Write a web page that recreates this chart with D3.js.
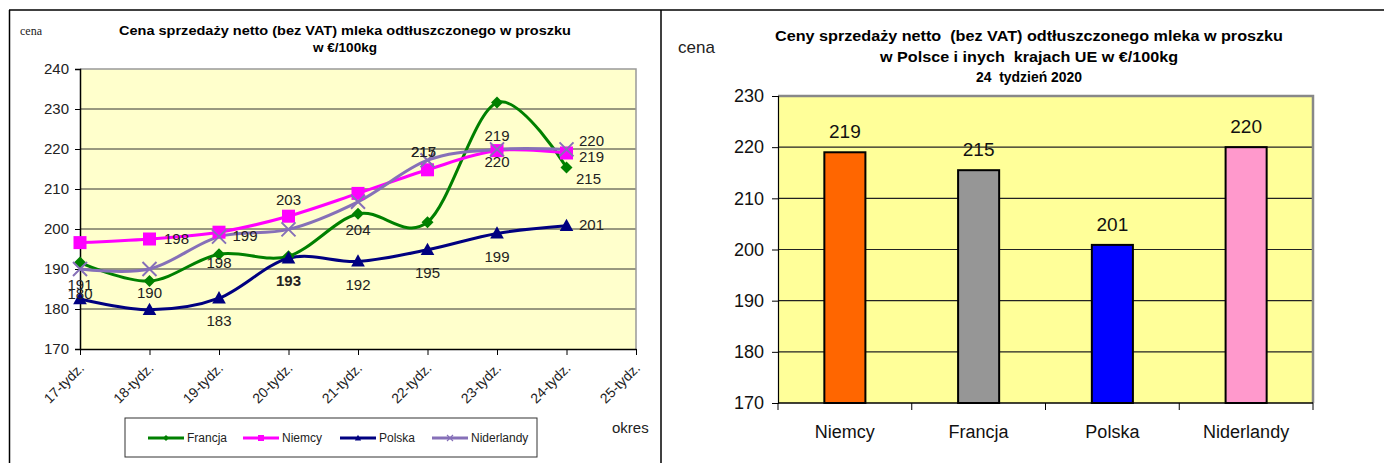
<!DOCTYPE html>
<html><head><meta charset="utf-8">
<script src="https://cdn.jsdelivr.net/npm/d3@7"></script>
<style>
body{margin:0;background:#fff;}
svg{display:block;}
.narrow{font-family:"Liberation Sans Narrow","Arial Narrow","Liberation Sans",Arial,sans-serif;}
.sans{font-family:"Liberation Sans",Arial,sans-serif;}
</style></head>
<body>
<svg id="c" width="1384" height="463"></svg>
<script>
// ---------- data: left chart ----------
const weeks = ["17-tydz.","18-tydz.","19-tydz.","20-tydz.","21-tydz.","22-tydz.","23-tydz.","24-tydz.","25-tydz."];
const francja    = [191.6, 187.0, 193.7, 193.2, 203.8, 201.7, 231.6, 215.4];
const niemcy     = [196.6, 197.5, 199.2, 203.2, 208.9, 214.8, 219.6, 219.0];
const polska     = [182.5, 179.8, 182.7, 192.7, 191.9, 194.8, 198.9, 200.8];
const niderlandy = [190.0, 190.0, 198.1, 199.9, 206.8, 217.2, 219.9, 219.9];
const leftTicks = [170,180,190,200,210,220,230,240];
const seriesNames = ["Francja","Niemcy","Polska","Niderlandy"];
// data labels as shown: [series index, week index, text]
const pointLabels = [
  [0,0,"191"],[2,0,"180"],[0,1,"190"],[0,2,"198"],[2,3,"193"],[2,2,"183"],
  [1,1,"198"],[3,2,"199"],[1,3,"203"],[0,4,"204"],[2,4,"192"],[2,5,"195"],
  [2,6,"199"],[3,5,"217"],[3,5,"215"],[1,6,"219"],[3,6,"220"],
  [3,7,"220"],[1,7,"219"],[0,7,"215"],[2,7,"201"]
];
// ---------- data: right chart ----------
const countries = ["Niemcy","Francja","Polska","Niderlandy"];
const week24 = [219, 215.5, 200.9, 220];
const week24Labels = ["219","215","201","220"];
const rightTicks = [170,180,190,200,210,220,230];

// ---------- styling / layout ----------
const seriesColors = ["#008000","#FF00FF","#000080","#8670B8"];
const barColors = ["#FF6600","#969696","#0000FF","#FF99CC"];
const labelOffsets = [
  [0,27,false],[0,0,false],[0,17,false],[0,14,false],[0,28,true],[0,28,false],
  [27,5,false],[26,4,false],[0,-11,false],[0,21,false],[0,29,false],[0,28,false],
  [0,29,false],[-4,-3,false],[-4,-3,false],[0,-10,false],[0,18,false],
  [25,-3,false],[25,9,false],[22,17,false],[25,4,false]
];

const svg = d3.select("#c");

// table borders
svg.append("line").attr("x1",9).attr("x2",1384).attr("y1",10).attr("y2",10).attr("stroke","#000").attr("stroke-width",1.5);
svg.append("line").attr("x1",9.5).attr("x2",9.5).attr("y1",10).attr("y2",463).attr("stroke","#000").attr("stroke-width",1.5);
svg.append("line").attr("x1",661).attr("x2",661).attr("y1",10).attr("y2",463).attr("stroke","#000").attr("stroke-width",1.5);

// ================= LEFT CHART =================
const L = svg.append("g");
const x = d3.scalePoint().domain(weeks).range([80,636]);
const y = d3.scaleLinear().domain([170,240]).range([349,69]);

L.append("rect").attr("x",80).attr("y",y(240)).attr("width",636-80).attr("height",y(170)-y(240))
  .attr("fill","#FFFFCC");
L.selectAll(".g").data(leftTicks.slice(1,-1)).enter().append("line")
  .attr("x1",80).attr("x2",636).attr("y1",d=>y(d)).attr("y2",d=>y(d))
  .attr("stroke","#333").attr("stroke-width",1);
L.append("path").attr("d",`M80,${y(240)}H636V${y(170)}`).attr("fill","none").attr("stroke","#999").attr("stroke-width",1.5);
const yAx = L.append("g").attr("transform","translate(80,0)")
  .call(d3.axisLeft(y).tickValues(leftTicks).tickSize(5).tickPadding(6).tickFormat(d3.format("d")));
yAx.select(".domain").attr("stroke","#000").attr("stroke-width",1.5);
yAx.selectAll(".tick line").attr("stroke","#000");
yAx.selectAll("text").attr("class","narrow").attr("font-size",15).attr("fill","#222");
const xAx = L.append("g").attr("transform",`translate(0,${y(170)})`)
  .call(d3.axisBottom(x).tickSize(6).tickSizeOuter(0).tickFormat(""));
xAx.select(".domain").attr("stroke","#000").attr("stroke-width",1.5);
xAx.selectAll(".tick line").attr("stroke","#000");
L.selectAll(".xl").data(weeks).enter().append("text")
  .attr("class","narrow").attr("font-size",14).attr("fill","#222")
  .attr("text-anchor","end")
  .attr("transform",d=>`translate(${x(d)+5},${y(170)+20}) rotate(-45)`)
  .text(d=>d);

const allSeries = [francja,niemcy,polska,niderlandy];
const line = d3.line().x((d,i)=>x(weeks[i])).y(d=>y(d)).curve(d3.curveCardinal.tension(0));

function marker(g, type, color, s){
  if(type===0){
    g.append("path").attr("d",`M0,${-s}L${s},0L0,${s}L${-s},0Z`).attr("fill",color);
  } else if(type===1){
    g.append("rect").attr("x",-s).attr("y",-s).attr("width",2*s).attr("height",2*s).attr("fill",color);
  } else if(type===2){
    g.append("path").attr("d",`M0,${-s*1.1}L${s*1.05},${s*0.8}L${-s*1.05},${s*0.8}Z`).attr("fill",color);
  } else {
    g.append("path").attr("d",`M${-s},${-s}L${s},${s}M${-s},${s}L${s},${-s}`).attr("stroke",color).attr("stroke-width",Math.max(1.2,s/3.5));
  }
}
allSeries.forEach((vals,si)=>{
  L.append("path").datum(vals).attr("d",line).attr("fill","none")
    .attr("stroke",seriesColors[si]).attr("stroke-width",3);
});
allSeries.forEach((vals,si)=>{
  vals.forEach((v,i)=>{
    const g = L.append("g").attr("transform",`translate(${x(weeks[i])},${y(v)})`);
    marker(g, si, seriesColors[si], si===0?6:(si===3?7:6.5));
  });
});
pointLabels.forEach((p,k)=>{
  const [si,wi,t] = p;
  const [dx,dy,bold] = labelOffsets[k];
  L.append("text").attr("class","narrow").attr("font-size",15).attr("fill","#222")
    .attr("font-weight",bold?"bold":"normal")
    .attr("text-anchor","middle")
    .attr("x",x(weeks[wi])+dx).attr("y",y(allSeries[si][wi])+dy)
    .text(t);
});
L.append("text").attr("x",20).attr("y",35).attr("font-family","Liberation Serif, Times New Roman, serif")
  .attr("font-size",12).attr("fill","#222").text("cena");
L.append("text").attr("class","sans").attr("font-weight","bold").attr("font-size",13.5)
  .attr("x",345).attr("y",35).attr("text-anchor","middle")
  .attr("textLength",452).attr("lengthAdjust","spacingAndGlyphs")
  .text("Cena sprzedaży netto (bez VAT) mleka odtłuszczonego w proszku");
L.append("text").attr("class","sans").attr("font-weight","bold").attr("font-size",13.5)
  .attr("x",345).attr("y",52).attr("text-anchor","middle")
  .attr("textLength",64).attr("lengthAdjust","spacingAndGlyphs")
  .text("w €/100kg");
L.append("text").attr("class","sans").attr("font-size",15).attr("fill","#222")
  .attr("x",612).attr("y",433).text("okres");
L.append("rect").attr("x",125).attr("y",418).attr("width",412).attr("height",39)
  .attr("fill","#fff").attr("stroke","#333").attr("stroke-width",1);
const legX = [148,243,340,432];
seriesNames.forEach((n,si)=>{
  const lg = L.append("g");
  lg.append("line").attr("x1",legX[si]).attr("x2",legX[si]+36).attr("y1",438).attr("y2",438)
    .attr("stroke",seriesColors[si]).attr("stroke-width",3);
  const mg = lg.append("g").attr("transform",`translate(${legX[si]+18},438)`);
  marker(mg, si, seriesColors[si], 3);
  lg.append("text").attr("class","narrow").attr("font-size",12).attr("fill","#222")
    .attr("x",legX[si]+39).attr("y",442).text(n);
});

// ================= RIGHT CHART =================
const R = svg.append("g");
const xb = d3.scaleBand().domain(countries).range([778,1313]).paddingInner(0.693).paddingOuter(0.3465);
const yr = d3.scaleLinear().domain([170,230]).range([403,96]);

R.append("rect").attr("x",778).attr("y",yr(230)).attr("width",1313-778).attr("height",yr(170)-yr(230))
  .attr("fill","#FFFF99");
R.selectAll(".g").data(rightTicks.slice(1,-1)).enter().append("line")
  .attr("x1",778).attr("x2",1313).attr("y1",d=>yr(d)).attr("y2",d=>yr(d))
  .attr("stroke","#222").attr("stroke-width",1.2);
R.append("path").attr("d",`M778,${yr(230)}H1313V${yr(170)}`).attr("fill","none").attr("stroke","#888").attr("stroke-width",2.5);
const yrAx = R.append("g").attr("transform","translate(778,0)")
  .call(d3.axisLeft(yr).tickValues(rightTicks).tickSize(6).tickPadding(8).tickFormat(d3.format("d")));
yrAx.select(".domain").attr("stroke","#000").attr("stroke-width",1.2);
yrAx.selectAll(".tick line").attr("stroke","#000");
yrAx.selectAll("text").attr("class","sans").attr("font-size",18).attr("fill","#111");
const xbAx = R.append("g").attr("transform",`translate(0,${yr(170)})`);
xbAx.append("line").attr("x1",778).attr("x2",1313).attr("y1",0).attr("y2",0).attr("stroke","#000").attr("stroke-width",1.5);
const bounds = countries.map((c,i)=>778 + i*xb.step()).concat([1313]);
xbAx.selectAll(".t").data(bounds).enter().append("line")
  .attr("x1",d=>d).attr("x2",d=>d).attr("y1",0).attr("y2",7).attr("stroke","#000");
R.selectAll(".xl").data(countries).enter().append("text")
  .attr("class","sans").attr("font-size",18).attr("fill","#111").attr("text-anchor","middle")
  .attr("x",d=>xb(d)+xb.bandwidth()/2).attr("y",438).text(d=>d);
R.selectAll(".bar").data(week24).enter().append("rect")
  .attr("x",(d,i)=>xb(countries[i])).attr("width",xb.bandwidth())
  .attr("y",d=>yr(d)).attr("height",d=>yr(170)-yr(d))
  .attr("fill",(d,i)=>barColors[i]).attr("stroke","#000").attr("stroke-width",2);
R.selectAll(".bl").data(week24).enter().append("text")
  .attr("class","sans").attr("font-size",19).attr("fill","#111").attr("text-anchor","middle")
  .attr("x",(d,i)=>xb(countries[i])+xb.bandwidth()/2).attr("y",d=>yr(d)-14)
  .text((d,i)=>week24Labels[i]);
R.append("text").attr("class","sans").attr("font-size",17).attr("fill","#222")
  .attr("x",678).attr("y",53).text("cena");
const tl = [["Ceny sprzedaży netto  (bez VAT) odtłuszczonego mleka w proszku",41,508],
            ["w Polsce i inych  krajach UE w €/100kg",62,298],
            ["24  tydzień 2020",82,106]];
tl.forEach(t=>{
  R.append("text").attr("class","sans").attr("font-weight","bold").attr("font-size",14)
    .attr("x",1029).attr("y",t[1]).attr("text-anchor","middle").attr("xml:space","preserve")
    .attr("textLength",t[2]).attr("lengthAdjust","spacingAndGlyphs").text(t[0]);
});
</script>
</body></html>
